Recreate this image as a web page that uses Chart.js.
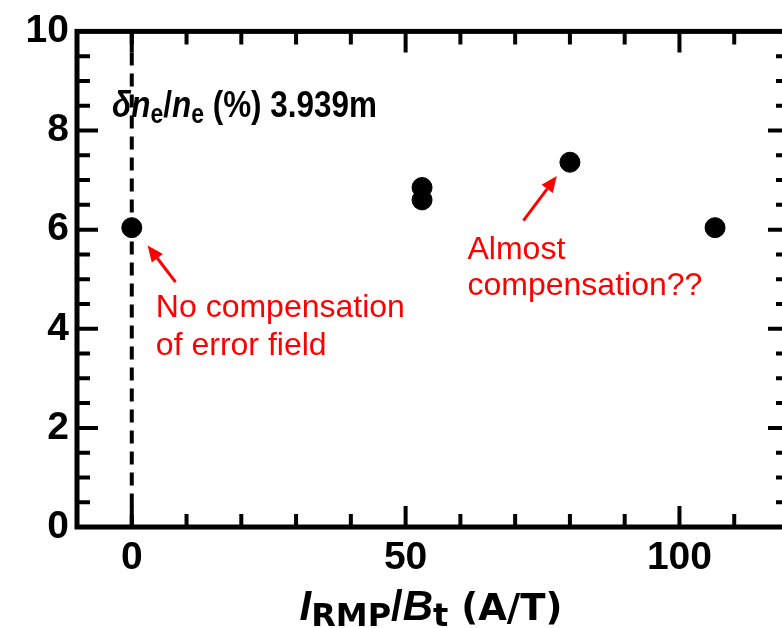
<!DOCTYPE html>
<html>
<head>
<meta charset="utf-8">
<script src="https://cdn.jsdelivr.net/npm/chart.js@4.4.1/dist/chart.umd.min.js"></script>
<style>
  html, body { margin: 0; padding: 0; background: #fff; overflow: hidden; }
  #wrap { width: 782px; height: 628px; overflow: hidden; }
</style>
</head>
<body>
<div id="wrap"><canvas id="chart" width="800" height="628"></canvas></div>
<script>
// data
const xValues = [0, 53, 53, 80, 106.5];
const yValues = [6.04, 6.85, 6.6, 7.36, 6.04];
const xTickValues = [0, 50, 100];
const yTickValues = [0, 2, 4, 6, 8, 10];
const xMinorStep = 10;
const yMinorStep = 0.5;
const xRange = [-10, 120];
const yRange = [0, 10];
const refLineX = 0;

const noteLines1 = ["No compensation", "of error field"];
const noteLines2 = ["Almost", "compensation??"];

const SANS = "'Liberation Sans', Arial, sans-serif";
const DJV = "'DejaVu Sans', Verdana, sans-serif";

// draw a row of text runs with mixed fonts / subscripts
function drawRuns(ctx, runs, x, y, align) {
  let total = 0;
  runs.forEach(r => { ctx.font = r.font; total += ctx.measureText(r.text).width; });
  let cx = align === 'center' ? x - total / 2 : x;
  runs.forEach(r => {
    ctx.font = r.font;
    ctx.fillText(r.text, cx, y + (r.dy || 0));
    cx += ctx.measureText(r.text).width;
  });
}

function arrow(ctx, x1, y1, x2, y2) {
  const ang = Math.atan2(y2 - y1, x2 - x1);
  const head = 16, half = 7;
  const bx = x2 - head * Math.cos(ang), by = y2 - head * Math.sin(ang);
  ctx.beginPath();
  ctx.moveTo(x1, y1);
  ctx.lineTo(bx, by);
  ctx.stroke();
  ctx.beginPath();
  ctx.moveTo(x2, y2);
  ctx.lineTo(bx + half * Math.sin(ang), by - half * Math.cos(ang));
  ctx.lineTo(bx - half * Math.sin(ang), by + half * Math.cos(ang));
  ctx.closePath();
  ctx.fill();
}

const refLine = {
  id: 'refLine',
  beforeDatasetsDraw(chart) {
    const {ctx, chartArea: a, scales: {x}} = chart;
    const px = x.getPixelForValue(refLineX);
    ctx.save();
    ctx.strokeStyle = '#000';
    ctx.lineWidth = 4;
    ctx.setLineDash([13, 8]);
    ctx.beginPath();
    ctx.moveTo(px, a.top);
    ctx.lineTo(px, a.bottom);
    ctx.stroke();
    ctx.restore();
  }
};

const frame = {
  id: 'frame',
  afterDatasetsDraw(chart) {
    const {ctx, chartArea: a, scales: {x, y}} = chart;
    ctx.save();
    ctx.strokeStyle = '#000';
    ctx.lineWidth = 4;
    // x ticks, bottom and top, pointing inward
    for (let v = xRange[0] + xMinorStep; v < xRange[1]; v += xMinorStep) {
      const len = xTickValues.includes(v) ? 21 : 13;
      const px = x.getPixelForValue(v);
      ctx.beginPath();
      ctx.moveTo(px, a.bottom); ctx.lineTo(px, a.bottom - len);
      ctx.moveTo(px, a.top); ctx.lineTo(px, a.top + len);
      ctx.stroke();
    }
    for (let v = yRange[0] + yMinorStep; v < yRange[1]; v += yMinorStep) {
      const len = yTickValues.includes(v) ? 21 : 13;
      const py = y.getPixelForValue(v);
      ctx.beginPath();
      ctx.moveTo(a.left, py); ctx.lineTo(a.left + len, py);
      ctx.moveTo(a.right, py); ctx.lineTo(a.right - len, py);
      ctx.stroke();
    }
    ctx.lineWidth = 5;
    ctx.strokeRect(a.left, a.top, a.right - a.left, a.bottom - a.top);

    // panel title (condensed bold, as in the figure)
    ctx.fillStyle = '#000';
    ctx.textBaseline = 'alphabetic';
    const T = 37, S = 27;
    const tx = x.getPixelForValue(-3.6), ty = y.getPixelForValue(8.28);
    ctx.save();
    ctx.translate(tx, ty);
    ctx.scale(0.85, 1);
    drawRuns(ctx, [
      {text: 'δ', font: `italic bold ${T}px ${SANS}`},
      {text: 'n', font: `italic bold ${T}px ${SANS}`},
      {text: 'e', font: `bold ${S}px ${SANS}`, dy: 6},
      {text: '/', font: `bold ${T}px ${SANS}`},
      {text: 'n', font: `italic bold ${T}px ${SANS}`},
      {text: 'e', font: `bold ${S}px ${SANS}`, dy: 6},
      {text: ' (%) 3.939m', font: `bold ${T}px ${SANS}`}
    ], 0, 0);
    ctx.restore();

    // x axis title
    const L = 42, LS = 32;
    drawRuns(ctx, [
      {text: 'I', font: `italic bold ${L}px ${SANS}`},
      {text: 'RMP', font: `bold ${LS}px ${DJV}`, dy: 6},
      {text: '/', font: `bold ${L}px ${SANS}`},
      {text: 'B', font: `italic bold ${L}px ${SANS}`},
      {text: 't', font: `bold ${LS}px ${DJV}`, dy: 6},
      {text: ' (A/T)', font: `bold 37px ${DJV}`}
    ], (a.left + a.right) / 2 - 2, 620, 'center');

    // red notes
    ctx.fillStyle = '#ff0000';
    ctx.strokeStyle = '#ff0000';
    ctx.lineWidth = 3;
    ctx.font = `32px ${SANS}`;
    const n1x = x.getPixelForValue(4.4), n1y = y.getPixelForValue(4.24);
    noteLines1.forEach((t, i) => ctx.fillText(t, n1x, n1y + i * 38));
    const n2x = x.getPixelForValue(61.3), n2y = y.getPixelForValue(5.4);
    noteLines2.forEach((t, i) => ctx.fillText(t, n2x, n2y + i * 36));
    arrow(ctx, x.getPixelForValue(8), y.getPixelForValue(4.94), x.getPixelForValue(2.9), y.getPixelForValue(5.68));
    arrow(ctx, x.getPixelForValue(71.5), y.getPixelForValue(6.18), x.getPixelForValue(77.6), y.getPixelForValue(7.08));
    ctx.restore();
  }
};

const tickFont = {family: SANS, weight: 'bold', size: 39};

new Chart(document.getElementById('chart'), {
  type: 'scatter',
  data: {
    datasets: [{
      data: xValues.map((v, i) => ({x: v, y: yValues[i]})),
      backgroundColor: '#000',
      borderColor: '#000',
      pointRadius: 10,
      pointHoverRadius: 10
    }]
  },
  options: {
    responsive: false,
    animation: false,
    events: [],
    layout: {padding: {left: 0, top: 27, right: 7, bottom: 0}},
    plugins: {legend: {display: false}, tooltip: {enabled: false}},
    scales: {
      x: {
        type: 'linear',
        min: xRange[0], max: xRange[1],
        afterBuildTicks: s => { s.ticks = xTickValues.map(v => ({value: v})); },
        afterFit: s => { s.height = 101; },
        grid: {display: false, drawTicks: false},
        border: {display: false},
        ticks: {color: '#000', font: tickFont, padding: 8, maxRotation: 0}
      },
      y: {
        type: 'linear',
        min: yRange[0], max: yRange[1],
        afterBuildTicks: s => { s.ticks = yTickValues.map(v => ({value: v})); },
        afterFit: s => { s.width = 77; },
        grid: {display: false, drawTicks: false},
        border: {display: false},
        ticks: {color: '#000', font: tickFont, padding: 8}
      }
    }
  },
  plugins: [refLine, frame]
});
</script>
</body>
</html>
